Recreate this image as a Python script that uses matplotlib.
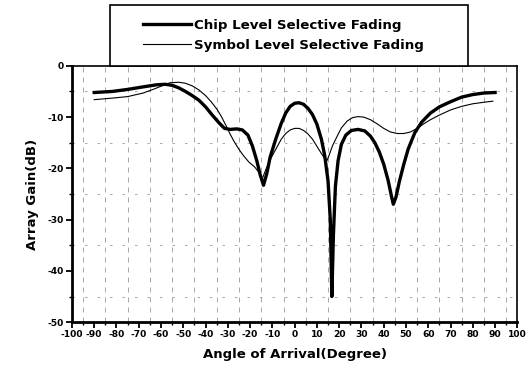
import numpy as np
import matplotlib.pyplot as plt
from matplotlib.ticker import MultipleLocator
from matplotlib.patches import Rectangle

plt.rcParams['font.family'] = ['DejaVu Sans']
plt.rcParams['axes.unicode_minus'] = False

# Chip level selective fading
chip_deg = [-90, -82, -75, -68, -62, -58, -55, -52, -49, -46, -43, -40, -37, -34, -31.5,
            -29, -26, -23.5, -21, -19, -17, -15.5, -14, -12.5, -11, -8.5, -6, -4, -2,
            0, 2, 4, 6, 8, 10, 12, 13.5, 15, 16, 16.7, 17.4, 18.3, 19.5, 21, 23,
            25.5, 28.5, 31.5, 34, 36, 38, 40, 42, 43.5, 44.3, 45.5, 47, 49, 51,
            54, 57, 61, 65, 70, 75, 80, 85, 90]
chip_db = [-5.2, -5.0, -4.6, -4.1, -3.7, -3.6, -3.8, -4.3, -5.0, -5.8, -6.7, -8.0, -9.6, -11.1, -12.2,
           -12.4, -12.3, -12.5, -13.5, -15.6, -18.5, -21.2, -23.3, -21.0, -17.8, -14.3, -11.2, -9.2, -7.9,
           -7.3, -7.2, -7.5, -8.3, -9.5, -11.4, -14.3, -17.5, -22.5, -30.0, -45.0, -33.0, -23.5, -18.5, -15.3, -13.5,
           -12.6, -12.4, -12.7, -13.7, -15.0, -16.8, -19.2, -22.4, -25.5, -27.0, -25.6, -22.6, -19.2, -16.2,
           -13.0, -11.0, -9.2, -8.0, -7.0, -6.1, -5.6, -5.3, -5.2]

# Symbol level selective fading
sym_deg = [-90, -82, -75, -68, -63, -59, -56, -52, -49, -46, -43, -40, -37.5, -35, -33,
           -31, -29, -27, -25, -23, -20.5, -18, -16, -14.5, -13, -11, -8.5, -6, -4, -2,
           0, 2, 4, 6, 8, 10, 12, 13.5, 14.5, 15.5, 17, 19, 21, 23.5, 26, 28.5, 31,
           34, 37, 40, 43, 46, 49, 52, 55, 58, 61, 65, 70, 75, 80, 85, 89]
sym_db = [-6.6, -6.3, -6.0, -5.3, -4.5, -3.8, -3.3, -3.2, -3.4, -3.9, -4.7, -5.8, -7.0, -8.4, -9.8,
          -11.5, -13.3, -14.9, -16.3, -17.5, -18.8, -19.7, -20.8, -22.0, -20.3, -18.3, -16.3, -14.3, -13.2, -12.5,
          -12.2, -12.2, -12.6, -13.3, -14.3, -15.7, -17.1, -18.1, -18.5, -17.4, -15.6, -13.8, -12.1, -10.8, -10.1, -9.9, -10.0,
          -10.5, -11.3, -12.2, -12.9, -13.2, -13.2, -12.9, -12.2, -11.3, -10.5, -9.6, -8.6, -7.9, -7.4, -7.1, -6.9]

fig = plt.figure(figsize=(5.29, 3.72), dpi=100)
ax = fig.add_axes([0.136, 0.134, 0.842, 0.689])

ax.plot(chip_deg, chip_db, color='black', lw=2.4, label='Chip Level Selective Fading')
ax.plot(sym_deg, sym_db, color='black', lw=0.8, label='Symbol Level Selective Fading')

ax.set_xlim(-100, 100)
ax.set_ylim(-50, 0)
ax.xaxis.set_major_locator(MultipleLocator(10))
ax.xaxis.set_minor_locator(MultipleLocator(5))
ax.yaxis.set_major_locator(MultipleLocator(10))
ax.yaxis.set_minor_locator(MultipleLocator(5))
ax.grid(which='minor', axis='x', linestyle=(0, (6, 6)), color='0.6', lw=0.6)
ax.grid(which='minor', axis='y', linestyle=(0, (3, 12)), color='0.6', lw=0.6)

for side in ['left', 'bottom']:
    ax.spines[side].set_linewidth(2.0)
for side in ['top', 'right']:
    ax.spines[side].set_linewidth(1.2)

ax.tick_params(which='major', direction='out', length=4, width=1.3, labelsize=6.6, pad=2)
ax.tick_params(which='minor', direction='out', length=2.5, width=1.0)
for lbl in ax.get_xticklabels() + ax.get_yticklabels():
    lbl.set_fontweight('bold')

ax.set_xlabel('Angle of Arrival(Degree)', fontsize=9.5, fontweight='bold', labelpad=6)
ax.set_ylabel('Array Gain(dB)', fontsize=9.5, fontweight='bold', labelpad=6)

# legend box sits over the top of the axes
fig.patches.append(Rectangle((0.208, 0.823), 0.677, 0.164, transform=fig.transFigure,
                             facecolor='white', edgecolor='black', lw=1.2, zorder=5))
leg = fig.legend(loc='center', bbox_to_anchor=(0.536, 0.905), frameon=False,
                 handlelength=3.6, handletextpad=0.2, labelspacing=0.5,
                 prop={'size': 9.6, 'weight': 'bold'})
leg.set_zorder(6)

fig.savefig('out.png', dpi=100)
